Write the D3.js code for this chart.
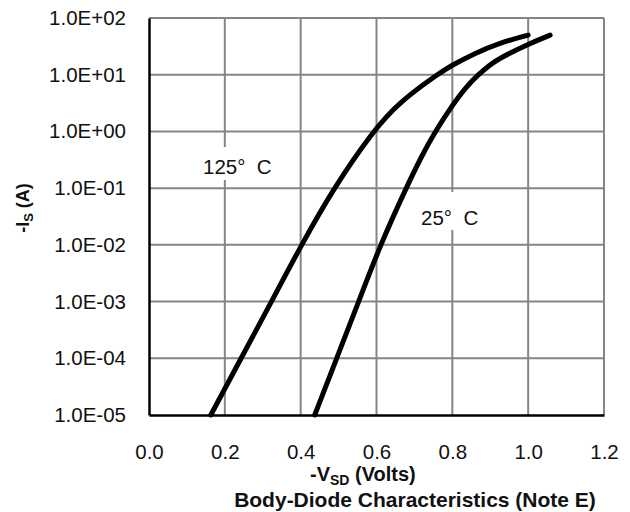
<!DOCTYPE html>
<html>
<head>
<meta charset="utf-8">
<script src="https://cdn.jsdelivr.net/npm/d3@7"></script>
<style>
  html, body { margin: 0; padding: 0; background: #fff; }
  svg { display: block; font-family: "Liberation Sans", Arial, sans-serif; }
</style>
</head>
<body>
<svg id="chart" width="630" height="512"></svg>
<script>
// Body-diode forward characteristics: source current vs. source-drain voltage
const xTicks = [0.0, 0.2, 0.4, 0.6, 0.8, 1.0, 1.2];
const yTicks = [1e-5, 1e-4, 1e-3, 1e-2, 1e-1, 1e0, 1e1, 1e2];

const volts125 = [0.163, 0.243, 0.323, 0.402, 0.487, 0.59, 0.66, 0.77, 0.80, 0.86, 0.924, 1.0];
const amps125  = [1e-5, 1e-4, 1e-3, 1e-2, 0.1, 1.0, 3.31, 11.2, 14.8, 24.0, 36.3, 50];

const volts25 = [0.437, 0.495, 0.553, 0.61, 0.678, 0.72, 0.755, 0.80, 0.835, 0.868, 0.90, 0.924, 1.0, 1.058];
const amps25  = [1e-5, 1e-4, 1e-3, 1e-2, 0.1, 0.38, 1.0, 2.9, 5.96, 10, 15.1, 19.5, 34.7, 50];

const seriesLabels = ["125\u00B0  C", "25\u00B0  C"];

const svg = d3.select("#chart");
const plot = {left: 149, right: 604, top: 18, bottom: 415};

const x = d3.scaleLinear().domain([0, 1.2]).range([plot.left, plot.right]);
const y = d3.scaleLog().domain([1e-5, 1e2]).range([plot.bottom, plot.top]);

const gridColor = "#878580";

// grid
const grid = svg.append("g");
grid.selectAll("line.v").data(xTicks.slice(1)).join("line")
  .attr("x1", d => x(d)).attr("x2", d => x(d))
  .attr("y1", plot.top).attr("y2", plot.bottom)
  .attr("stroke", gridColor).attr("stroke-width", 2);
grid.selectAll("line.h").data(yTicks.slice(1)).join("line")
  .attr("x1", plot.left).attr("x2", plot.right)
  .attr("y1", d => y(d)).attr("y2", d => y(d))
  .attr("stroke", gridColor).attr("stroke-width", 2);

// label backgrounds interrupt the grid
const labelBoxes = [
  {x: 200, y: 147, w: 80, h: 33},
  {x: 418, y: 192, w: 68, h: 38}
];
svg.append("g").selectAll("rect").data(labelBoxes).join("rect")
  .attr("x", d => d.x).attr("y", d => d.y)
  .attr("width", d => d.w).attr("height", d => d.h)
  .attr("fill", "#fff");

// axes
const yFmt = d => {
  const e = Math.round(Math.log10(d));
  return "1.0E" + (e < 0 ? "-" : "+") + String(Math.abs(e)).padStart(2, "0");
};
const yAxis = svg.append("g").attr("transform", `translate(${plot.left},0)`)
  .call(d3.axisLeft(y).tickValues(yTicks).tickFormat(yFmt).tickSize(0).tickPadding(23));
const xAxis = svg.append("g").attr("transform", `translate(0,${plot.bottom})`)
  .call(d3.axisBottom(x).tickValues(xTicks).tickFormat(d3.format(".1f")).tickSize(0).tickPadding(29));
[yAxis, xAxis].forEach(g => {
  g.select(".domain").attr("stroke", "#000").attr("stroke-width", 2.5);
  g.selectAll("text").attr("font-size", 20.5).attr("fill", "#111")
    .attr("font-family", "'Liberation Sans', Arial, sans-serif");
});

// curves (B-spline through the sampled points for a smooth trace)
const line = d3.line().x(d => x(d[0])).y(d => y(d[1])).curve(d3.curveBasis);
const series = [d3.zip(volts125, amps125), d3.zip(volts25, amps25)];
svg.append("g").selectAll("path").data(series).join("path")
  .attr("d", line)
  .attr("fill", "none").attr("stroke", "#000")
  .attr("stroke-width", 5).attr("stroke-linecap", "round");

// series labels
svg.append("text").attr("x", 203).attr("y", 174)
  .attr("font-size", 20.5).attr("fill", "#111").style("white-space", "pre")
  .text(seriesLabels[0]);
svg.append("text").attr("x", 421).attr("y", 225)
  .attr("font-size", 20.5).attr("fill", "#111").style("white-space", "pre")
  .text(seriesLabels[1]);

// axis titles
const xt = svg.append("text").attr("x", 310).attr("y", 481)
  .attr("font-size", 20).attr("font-weight", "bold").attr("fill", "#111");
xt.append("tspan").text("-V");
xt.append("tspan").attr("font-size", 14).attr("dy", 4).text("SD");
xt.append("tspan").attr("dy", -4).text(" (Volts)");

const yt = svg.append("text")
  .attr("transform", "translate(29,208) rotate(-90)")
  .attr("text-anchor", "middle")
  .attr("font-size", 18).attr("font-weight", "bold").attr("fill", "#111");
yt.append("tspan").text("-I");
yt.append("tspan").attr("font-size", 13).attr("dy", 4).text("S");
yt.append("tspan").attr("dy", -4).text(" (A)");

svg.append("text").attr("x", 415).attr("y", 507)
  .attr("text-anchor", "middle")
  .attr("font-size", 21).attr("font-weight", "bold").attr("fill", "#111")
  .text("Body-Diode Characteristics (Note E)");
</script>
</body>
</html>
